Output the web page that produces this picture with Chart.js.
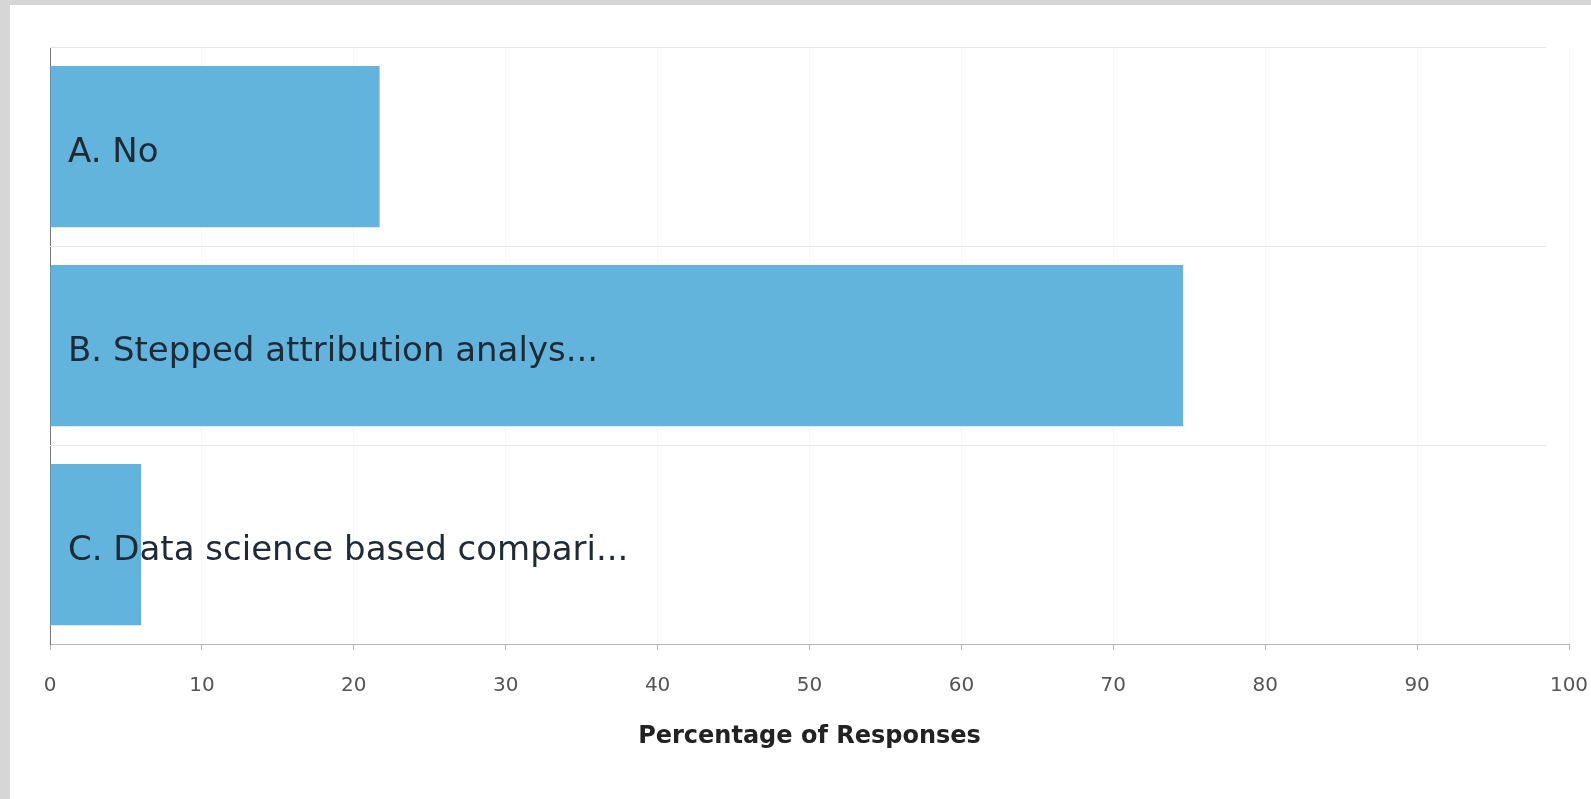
<!DOCTYPE html>
<html>
<head>
<meta charset="utf-8">
<script src="https://cdn.jsdelivr.net/npm/chart.js@4/dist/chart.umd.min.js"></script>
<style>
  html, body { margin: 0; padding: 0; background: #d6d6d6; overflow: hidden; }
  #wrap { position: absolute; left: 10px; top: 5px; width: 1581px; height: 794px; background: #fff; }
</style>
</head>
<body>
<div id="wrap"><canvas id="myChart" width="1581" height="794"></canvas></div>
<script>
// answer options, shortened the way the survey tool shows them
const categories = ['A. No', 'B. Stepped attribution analys...', 'C. Data science based compari...']
// share of respondents for each option (%)
const responses = [21.7, 74.6, 6.0]
const xTicks = [0, 10, 20, 30, 40, 50, 60, 70, 80, 90, 100]

// category labels written inside the bars, and the row separators
const barLabels = {
  id: 'barLabels',
  beforeDatasetsDraw(chart) {
    const ctx = chart.ctx
    const area = chart.chartArea
    const y = chart.scales.y
    ctx.save()
    ctx.strokeStyle = '#e6e6e6'
    ctx.lineWidth = 1
    for (let i = 0; i < categories.length; i++) {
      const edge = Math.round(y.getPixelForValue(i) - (y.getPixelForValue(1) - y.getPixelForValue(0)) / 2) + 0.5
      ctx.beginPath()
      ctx.moveTo(area.left, edge)
      ctx.lineTo(area.right - 23, edge)
      ctx.stroke()
    }
    ctx.restore()
  },
  afterDatasetsDraw(chart) {
    const ctx = chart.ctx
    const y = chart.scales.y
    ctx.save()
    ctx.font = '34px "DejaVu Sans"'
    ctx.fillStyle = '#1f2a36'
    ctx.textBaseline = 'middle'
    for (let i = 0; i < categories.length; i++) {
      ctx.fillText(categories[i], chart.chartArea.left + 18, y.getPixelForValue(i) + 7)
    }
    ctx.restore()
  }
}

var ctx = document.getElementById('myChart').getContext('2d')
var chart = new Chart(ctx, {
  type: 'bar',
  data: {
    labels: categories,
    datasets: [{
      data: responses,
      backgroundColor: '#62b4dd',
      borderWidth: 0,
      categoryPercentage: 1,
      barPercentage: 0.81
    }]
  },
  options: {
    indexAxis: 'y',
    responsive: false,
    animation: false,
    layout: { padding: { left: 32, top: 42, right: 22, bottom: 44 } },
    plugins: { legend: { display: false }, tooltip: { enabled: false } },
    scales: {
      x: {
        min: 0,
        max: 100,
        afterBuildTicks: axis => { axis.ticks = xTicks.map(v => ({ value: v })) },
        // let the last tick label run into the right margin
        afterFit: axis => { axis.paddingRight = 0 },
        grid: { color: '#f8f8f8', tickColor: '#b5b5b5', tickLength: 6 },
        border: { color: '#b5b5b5' },
        ticks: { color: '#555', font: { family: 'DejaVu Sans', size: 20 }, padding: 24 },
        title: {
          display: true,
          text: 'Percentage of Responses',
          color: '#222',
          font: { family: 'DejaVu Sans', size: 24, weight: 'bold' },
          padding: { top: 0 }
        }
      },
      y: {
        ticks: { display: false },
        grid: { display: false },
        border: { color: '#777' }
      }
    }
  },
  plugins: [barLabels]
})
</script>
</body>
</html>
